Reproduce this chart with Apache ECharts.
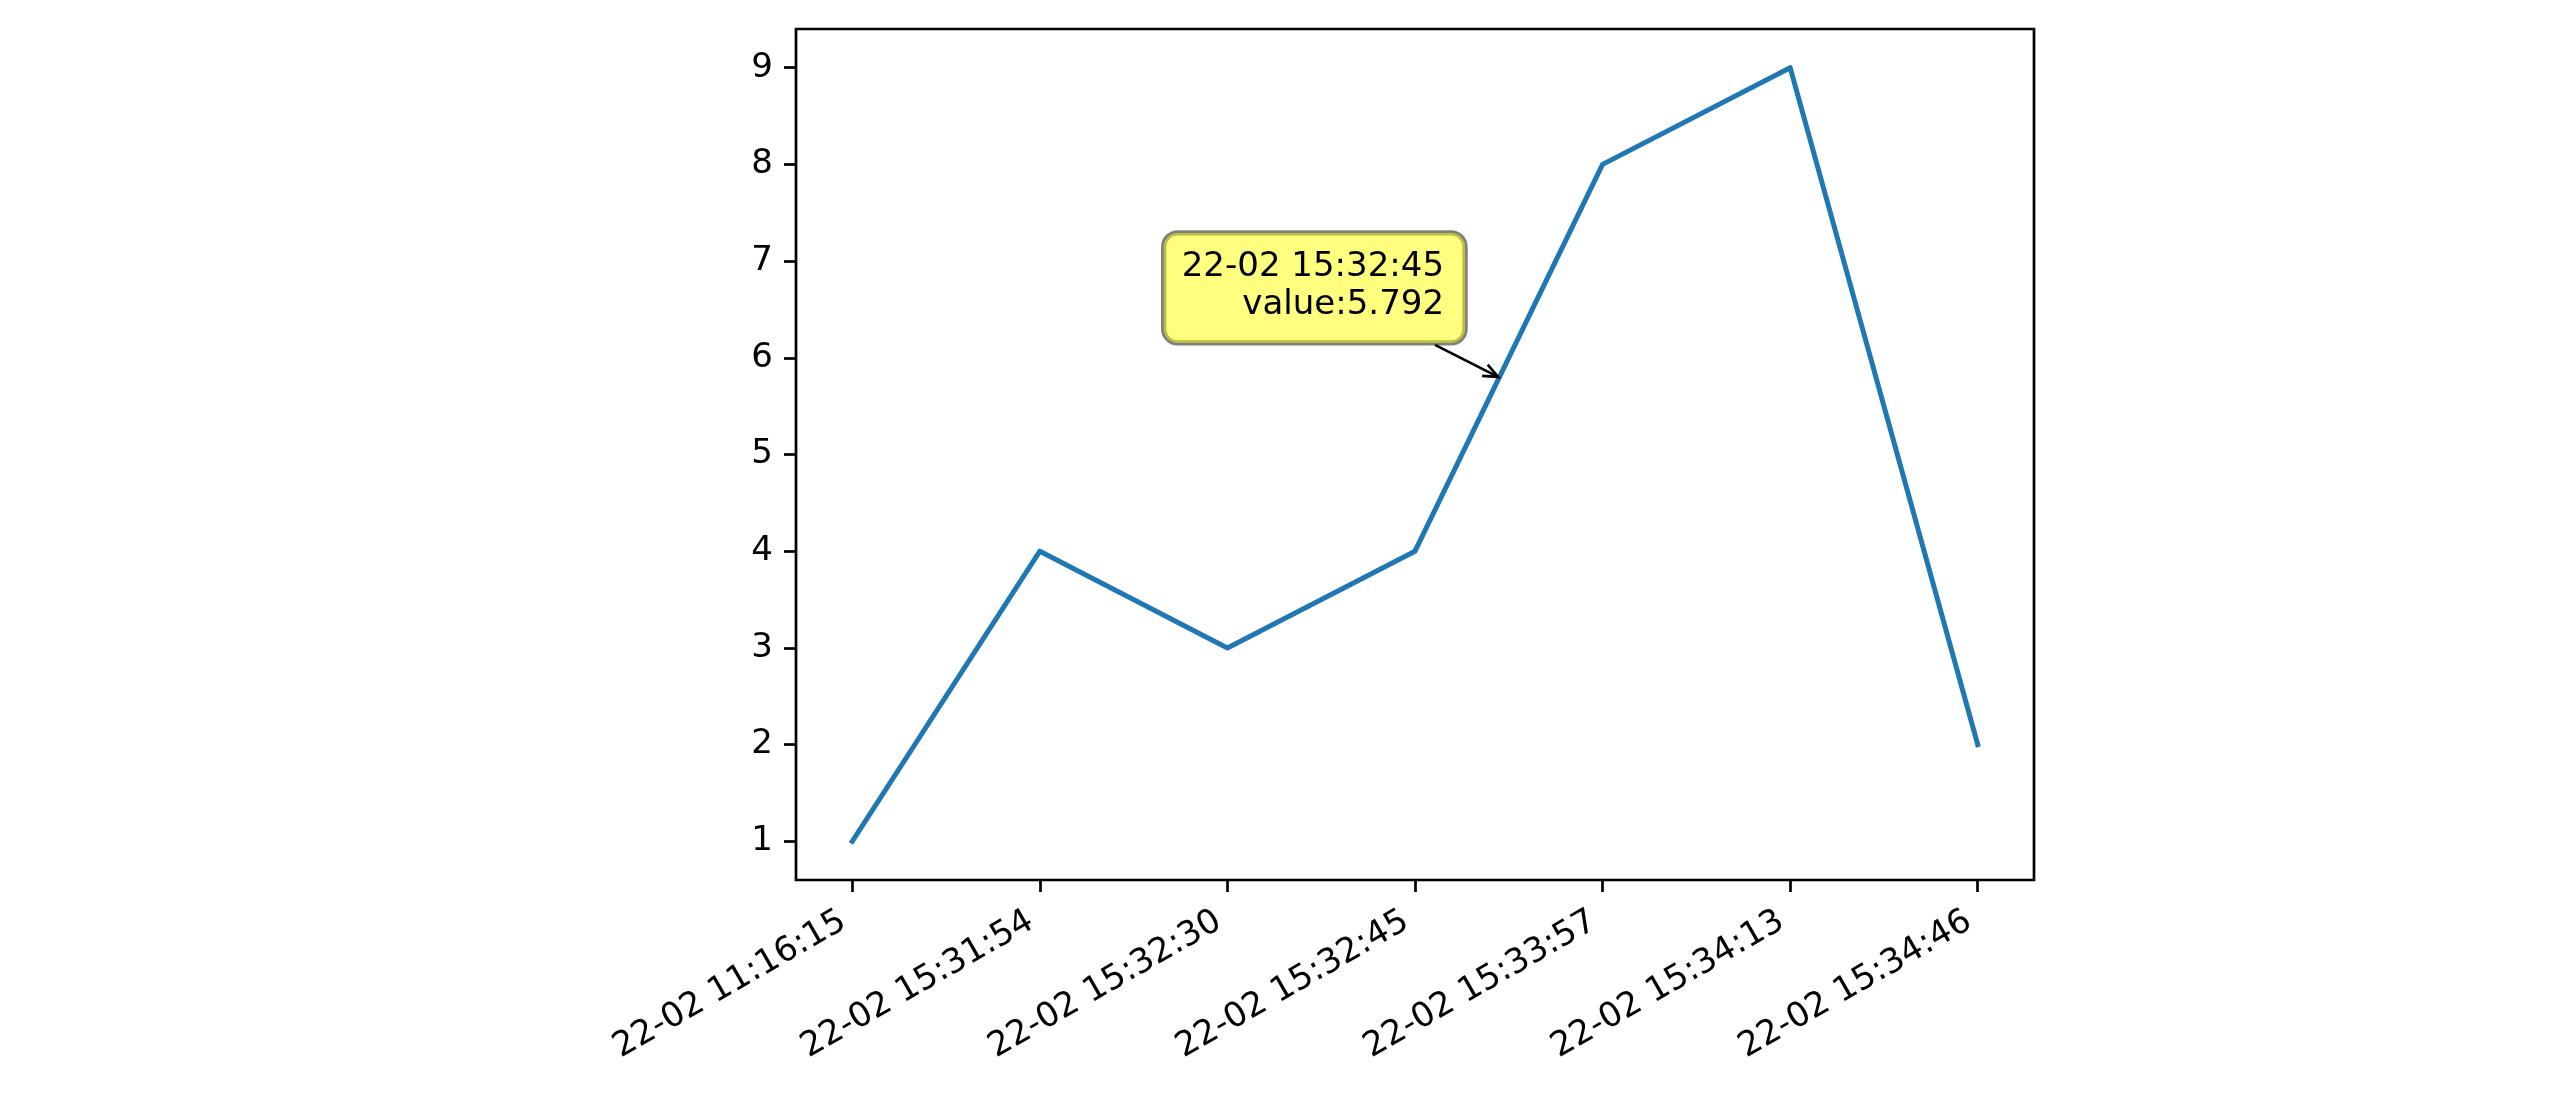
<!DOCTYPE html>
<html>
<head>
<meta charset="utf-8">
<script src="https://cdn.jsdelivr.net/npm/echarts@6/dist/echarts.min.js"></script>
<style>
html,body{margin:0;padding:0;background:#fff;}
#chart{width:2556px;height:1096px;}
</style>
</head>
<body>
<div id="chart"></div>
<script>
const categories = ["22-02 11:16:15","22-02 15:31:54","22-02 15:32:30","22-02 15:32:45","22-02 15:33:57","22-02 15:34:13","22-02 15:34:46"];
const values = [1, 4, 3, 4, 8, 9, 2];
const yTicks = [1, 2, 3, 4, 5, 6, 7, 8, 9];
const annX = 3.448;
const annY = 5.792;
const annLabel = "22-02 15:32:45\nvalue:5.792";

const xTicks = categories.map((c, i) => i);
const seriesData = values.map((v, i) => [i, v]);
const FONT = 'DejaVu Sans';

const chart = echarts.init(document.getElementById('chart'), null, {renderer: 'canvas'});
chart.setOption({
  animation: false,
  backgroundColor: '#ffffff',
  grid: {left: 796, top: 29, right: 522, bottom: 216, show: true, borderColor: '#000', borderWidth: 2.7, backgroundColor: 'transparent'},
  xAxis: {
    type: 'value', min: -0.3, max: 6.3,
    axisLine: {show: false, onZero: false},
    splitLine: {show: false},
    axisTick: {show: true, length: 12, lineStyle: {color: '#000', width: 2.7}, customValues: xTicks},
    axisLabel: {
      customValues: xTicks, rotate: 30, margin: 34, padding: [0, 10, 0, 0],
      fontFamily: FONT, fontSize: 34, color: '#000',
      formatter: v => categories[Math.round(v)]
    }
  },
  yAxis: {
    type: 'value', min: 0.6, max: 9.4,
    axisLine: {show: false, onZero: false},
    splitLine: {show: false},
    axisTick: {show: true, length: 12, lineStyle: {color: '#000', width: 2.7}, customValues: yTicks},
    axisLabel: {customValues: yTicks, margin: 23, fontFamily: FONT, fontSize: 34, color: '#000'}
  },
  series: [{
    type: 'line', data: seriesData, showSymbol: false, symbol: 'none',
    lineStyle: {color: '#1f77b4', width: 5, join: 'round', cap: 'square'}
  }]
});

const p = chart.convertToPixel({gridIndex: 0}, [annX, annY]);
const sx = p[0] - 64, sy = p[1] - 33;
const tx = p[0] - 1, ty = p[1] - 1;
const dx = tx - sx, dy = ty - sy, L = Math.hypot(dx, dy);
const ux = dx / L, uy = dy / L;
const hl = 16, ang = 0.4;
function rot(x, y, a){ return [x*Math.cos(a) - y*Math.sin(a), x*Math.sin(a) + y*Math.cos(a)]; }
const h1 = rot(-ux, -uy, ang), h2 = rot(-ux, -uy, -ang);

chart.setOption({
  graphic: [
    {type: 'line', shape: {x1: sx, y1: sy, x2: tx, y2: ty}, style: {stroke: '#000', lineWidth: 2.7}, z: 100},
    {type: 'polyline', shape: {points: [[tx + h1[0]*hl, ty + h1[1]*hl], [tx, ty], [tx + h2[0]*hl, ty + h2[1]*hl]]}, style: {stroke: '#000', lineWidth: 2.7, fill: null}, z: 100},
    {type: 'text', x: p[0] - 34, y: p[1] - 35, z: 101,
      style: {
        text: annLabel, font: '34px "DejaVu Sans"', fill: '#000',
        align: 'right', verticalAlign: 'bottom', lineHeight: 38,
        backgroundColor: 'rgba(255,255,0,0.5)', borderColor: 'rgba(0,0,0,0.5)', borderWidth: 2.7,
        borderRadius: 14, padding: [15, 21, 19, 18]
      }
    }
  ]
});
</script>
</body>
</html>
